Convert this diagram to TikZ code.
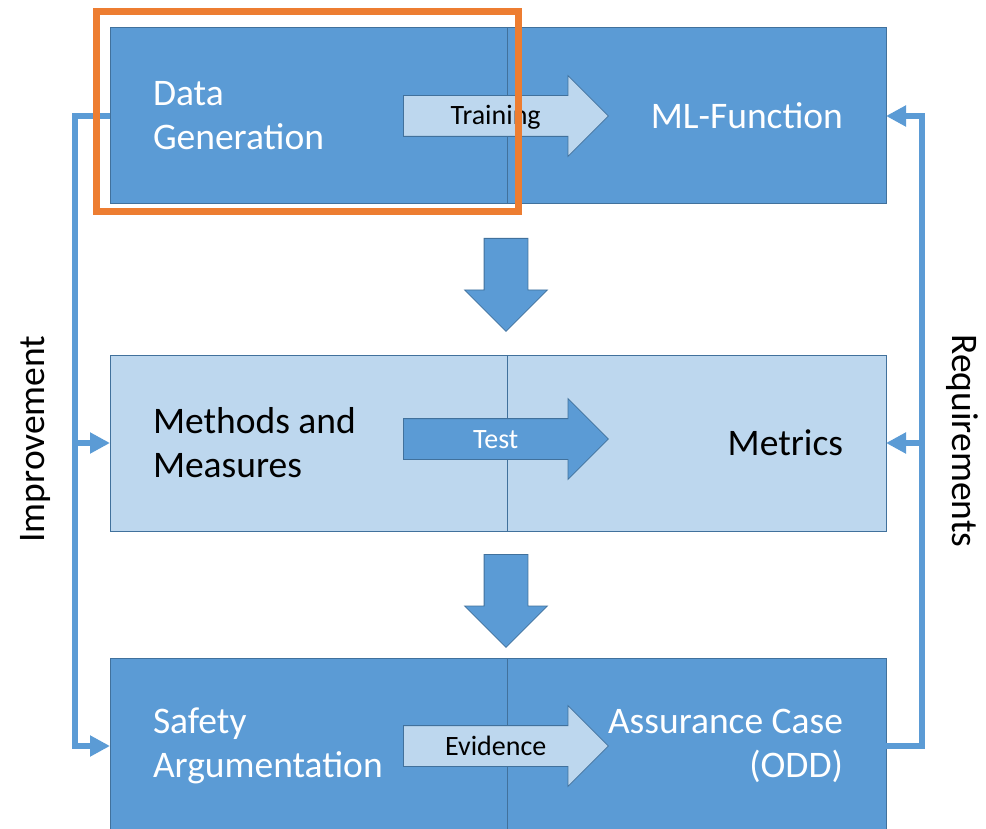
\documentclass[tikz,border=0pt]{standalone}
\usepackage{fontspec}
\setmainfont{Carlito}
\usetikzlibrary{arrows.meta}
\usetikzlibrary{positioning}
\usetikzlibrary{shapes.arrows}
\usetikzlibrary{calc}
\definecolor{boxdark}{HTML}{5B9BD5}
\definecolor{boxlight}{HTML}{BDD7EE}
\definecolor{boxedge}{HTML}{41719C}
\definecolor{marker}{HTML}{ED7D31}
\tikzset{>=latex}
\tikzset{
  halfbox/.style = {draw = boxedge, line width = 1pt, outer sep = 0pt, minimum height = 176pt, inner xsep = 43pt, inner ysep = 0pt, font = \fontsize{37.5}{44}\selectfont},
  leftbox/.style = {halfbox, text width = 311pt, align = flush left},
  rightbox/.style = {halfbox, text width = 293pt, align = flush right},
  blockarrow/.style = {single arrow, draw = boxedge, line width = 0.8pt, single arrow head extend = 20pt, minimum height = 205pt, text height = 21pt, text depth = 3pt, inner ysep = 8pt, inner xsep = 0pt, font = \fontsize{28}{32}\selectfont},
  stepdown/.style = {single arrow, draw = boxedge, fill = boxdark, line width = 0.8pt, rotate = -90, single arrow head extend = 19.5pt, minimum height = 93pt, text height = 0pt, text depth = 0pt, inner ysep = 21.5pt, inner xsep = 0pt},
  feedline/.style = {draw = boxdark, line width = 6pt},
  feedtip/.style = {-{Triangle[length = 20pt, width = 20pt]}}
}

\begin{document}
\begin{tikzpicture}[x = 1pt, y = -1pt]

\useasboundingbox (0,0) rectangle (986,829);
\clip (0,0) rectangle (986,829);

% three rows, each split in two halves
\node[leftbox, fill = boxdark, text = white, anchor = north west] (dat) at (110,28) {Data\\Generation};
\node[rightbox, fill = boxdark, text = white, right = 0pt of dat] (mlf) {ML-Function};

\node[leftbox, fill = boxlight, below = 151pt of dat] (mam) {Methods and\\Measures};
\node[rightbox, fill = boxlight, right = 0pt of mam] (met) {Metrics};

\node[leftbox, fill = boxdark, text = white, below = 127pt of mam] (saf) {Safety\\Argumentation};
\node[rightbox, fill = boxdark, text = white, right = 0pt of saf] (acs) {Assurance Case\\(ODD)};

% arrows inside the rows
\node[blockarrow, fill = boxlight, anchor = tail] (trn) at ($(dat.east) + (-104,0)$) {Training};
\node[blockarrow, fill = boxdark, text = white, anchor = tail] (tst) at ($(mam.east) + (-104,-4)$) {Test};
\node[blockarrow, fill = boxlight, anchor = tail] (evd) at ($(saf.east) + (-104,0)$) {Evidence};

% arrows between the rows
\node[stepdown, anchor = tail] (down1) at ($(dat.south east) + (-1,34)$) {};
\node[stepdown, anchor = tail] (down2) at ($(mam.south east) + (-1,23)$) {};

% improvement loop
\coordinate (lrail) at ($(dat.west) + (-35,0)$);
\draw[feedline, feedtip] (dat.west) -- (lrail) |- (saf.west);
\draw[feedline, feedtip] (lrail |- mam.west) -- (mam.west);
\node[rotate = 90, font = \fontsize{37.5}{44}\selectfont] (imp) at ($(lrail |- mam.west) + (-40,-4)$) {Improvement};

% requirements loop
\coordinate (rrail) at ($(acs.east) + (36,0)$);
\draw[feedline, feedtip] (acs.east) -- (rrail) |- (mlf.east);
\draw[feedline, feedtip] (rrail |- met.east) -- (met.east);
\node[rotate = -90, font = \fontsize{37.5}{44}\selectfont] (req) at ($(rrail |- met.east) + (40,-2)$) {Requirements};

% highlight
\draw[marker, line width = 7pt] ($(dat.north west) + (-13.5,-16.5)$) rectangle ($(dat.south east) + (11.5,7.5)$);

\end{tikzpicture}
\end{document}
